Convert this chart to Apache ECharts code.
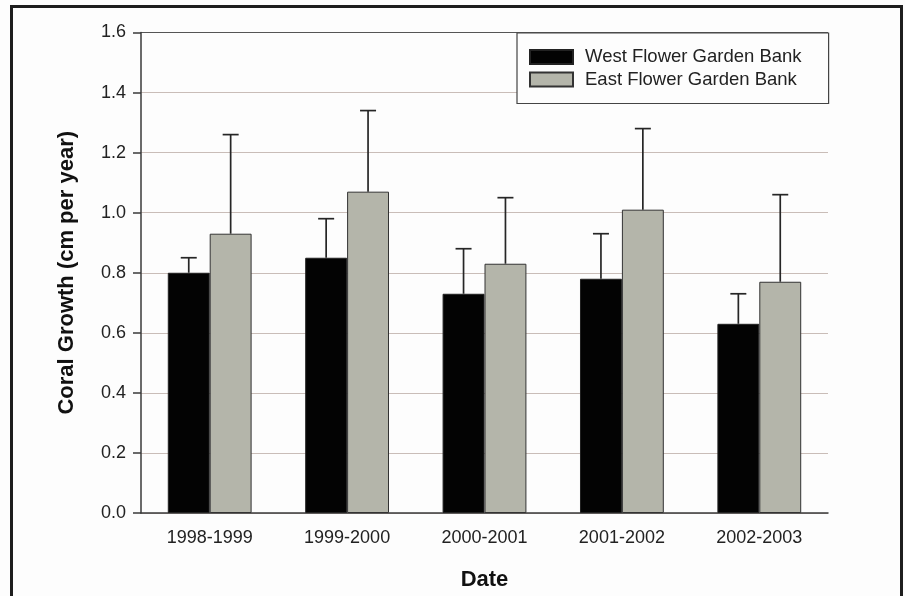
<!DOCTYPE html>
<html><head><meta charset="utf-8">
<script src="https://cdn.jsdelivr.net/npm/echarts@6/dist/echarts.min.js"></script>
<style>html,body{margin:0;padding:0;background:#fdfdfd}#c{width:905px;height:596px}</style>
</head><body><div id="c"></div>
<script>
const categories = ['1998-1999','1999-2000','2000-2001','2001-2002','2002-2003'];
const westValues = [0.80, 0.85, 0.73, 0.78, 0.63];
const westUpper  = [0.85, 0.98, 0.88, 0.93, 0.73];
const eastValues = [0.93, 1.07, 0.83, 1.01, 0.77];
const eastUpper  = [1.26, 1.34, 1.05, 1.28, 1.06];

const BAR_FRAC = 0.305;
function errSeries(name, vals, ups, side) {
  return {
    type: 'custom', name: name + ' err', silent: true, z: 5,
    data: vals.map((v, i) => [i, v, ups[i]]),
    renderItem: function (params, api) {
      const i = api.value(0);
      const catW = api.size([1, 0])[0];
      const off = side * catW * BAR_FRAC / 2;
      const p0 = api.coord([i, api.value(1)]);
      const p1 = api.coord([i, api.value(2)]);
      const x = p0[0] + off;
      const cap = 8;
      const st = { stroke: '#262626', lineWidth: 1.7 };
      return { type: 'group', children: [
        { type: 'line', shape: { x1: x, y1: p0[1], x2: x, y2: p1[1] }, style: st },
        { type: 'line', shape: { x1: x - cap, y1: p1[1], x2: x + cap, y2: p1[1] }, style: st }
      ]};
    }
  };
}

const chart = echarts.init(document.getElementById('c'));
const font = '"Liberation Sans", Arial, sans-serif';
chart.setOption({
  backgroundColor: '#fdfdfd',
  animation: false,
  textStyle: { fontFamily: font },
  grid: { left: 141, right: 77, top: 32.5, bottom: 83 },
  graphic: [{
    type: 'polyline', z: 100,
    shape: { points: [[11.5, 600], [11.5, 6.5], [901.5, 6.5], [901.5, 600]] },
    style: { stroke: '#1e1e1e', lineWidth: 3, fill: null }
  }],
  legend: {
    orient: 'vertical', left: 517, top: 33,
    padding: [13.5, 27, 13.5, 12],
    itemWidth: 43, itemHeight: 14, itemGap: 1.5,
    icon: 'rect',
    borderColor: '#444', borderWidth: 1.2, borderRadius: 0,
    backgroundColor: '#fdfdfd',
    data: ['West Flower Garden Bank', 'East Flower Garden Bank'],
    textStyle: { fontSize: 18.5, lineHeight: 21, color: '#222', fontFamily: font, padding: [0, 0, 0, 7] }
  },
  xAxis: {
    type: 'category', data: categories, boundaryGap: true,
    name: 'Date', nameLocation: 'middle', nameGap: 56,
    nameTextStyle: { fontSize: 22, fontWeight: 'bold', color: '#111', fontFamily: font },
    axisLine: { lineStyle: { color: '#3a3a3a', width: 1.5 } },
    axisTick: { alignWithLabel: true, length: 8, lineStyle: { color: '#3a3a3a', width: 1.5 } },
    axisLabel: { fontSize: 18, color: '#222', margin: 16, fontFamily: font }
  },
  yAxis: {
    type: 'value', min: 0, max: 1.6, interval: 0.2,
    name: 'Coral Growth (cm per year)', nameLocation: 'middle', nameGap: 63,
    nameTextStyle: { fontSize: 22, fontWeight: 'bold', color: '#111', fontFamily: font },
    axisLine: { show: true, lineStyle: { color: '#3a3a3a', width: 1.5 } },
    axisTick: { show: true, length: 8, lineStyle: { color: '#3a3a3a', width: 1.5 } },
    axisLabel: { fontSize: 18, color: '#222', margin: 15, fontFamily: font,
      formatter: v => v.toFixed(1) },
    splitLine: { show: true, lineStyle: { width: 1.2,
      color: ['#c9bdb8','#c9bdb8','#c9bdb8','#c9bdb8','#c9bdb8','#c9bdb8','#c9bdb8','#c9bdb8','#555'] } }
  },
  series: [
    { type: 'bar', name: 'West Flower Garden Bank', data: westValues,
      barWidth: (BAR_FRAC * 100) + '%', barGap: '0%',
      itemStyle: { color: '#030303', borderColor: '#222', borderWidth: 1 } },
    { type: 'bar', name: 'East Flower Garden Bank', data: eastValues,
      barWidth: (BAR_FRAC * 100) + '%', barGap: '0%',
      itemStyle: { color: '#b4b5aa', borderColor: '#333', borderWidth: 1 } },
    errSeries('West', westValues, westUpper, -1),
    errSeries('East', eastValues, eastUpper, 1)
  ]
});
</script></body></html>
